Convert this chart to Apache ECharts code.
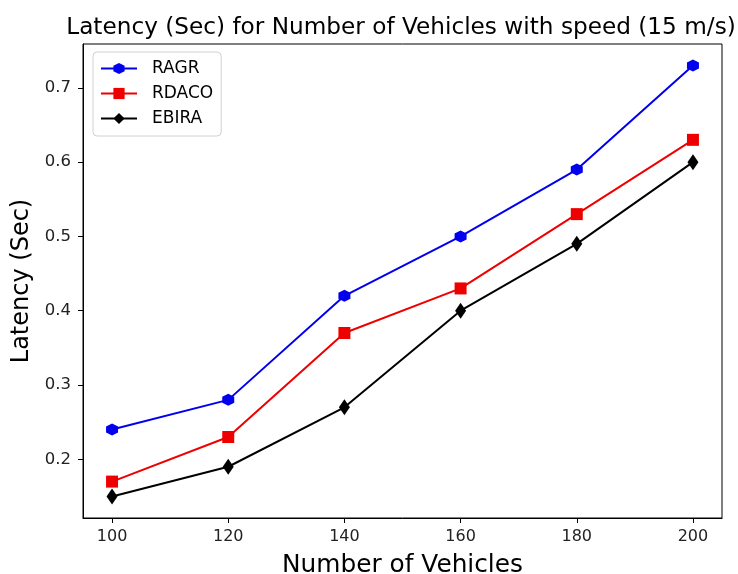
<!DOCTYPE html>
<html>
<head>
<meta charset="utf-8">
<script src="https://cdn.jsdelivr.net/npm/echarts@6/dist/echarts.min.js"></script>
<style>
  html, body { margin: 0; padding: 0; background: #fff; }
  #chart { width: 738px; height: 574px; }
</style>
</head>
<body>
<div id="chart"></div>
<script>
var vehicles = [100, 120, 140, 160, 180, 200]
var ragr = [0.24, 0.28, 0.42, 0.50, 0.59, 0.73]
var rdaco = [0.17, 0.23, 0.37, 0.43, 0.53, 0.63]
var ebira = [0.15, 0.19, 0.27, 0.40, 0.49, 0.60]
var xTicks = [100, 120, 140, 160, 180, 200]
var yTicks = [0.2, 0.3, 0.4, 0.5, 0.6, 0.7]

var hexagon = 'path://M0,-10 L8.66,-5 L8.66,5 L0,10 L-8.66,5 L-8.66,-5 Z'
var font = 'DejaVu Sans'

function pairs (ys) {
  return vehicles.map(function (x, i) { return [x, ys[i]] })
}

var chart = echarts.init(document.getElementById('chart'))
chart.setOption({
  animation: false,
  textStyle: { fontFamily: font },
  title: {
    text: 'Latency (Sec) for Number of Vehicles with speed (15 m/s)',
    left: 396,
    top: 11,
    textAlign: 'center',
    textStyle: { fontSize: 23.2, fontWeight: 'normal', color: '#000', fontFamily: font }
  },
  legend: {
    orient: 'vertical',
    left: 93,
    top: 52,
    itemWidth: 36,
    itemHeight: 14,
    itemGap: 8,
    padding: [8, 8, 9, 7],
    borderColor: '#d0d0d0',
    borderWidth: 1,
    borderRadius: 4,
    textStyle: { fontSize: 17, color: '#000', fontFamily: font, padding: [0, 0, 0, 10] },
    data: ['RAGR', 'RDACO', 'EBIRA']
  },
  grid: {
    left: 83,
    right: 16,
    top: 44,
    bottom: 56,
    outerBoundsMode: 'none',
    show: true,
    borderColor: '#000',
    borderWidth: 1
  },
  xAxis: {
    type: 'value',
    min: 95,
    max: 205,
    name: 'Number of Vehicles',
    nameLocation: 'middle',
    nameGap: 35,
    nameTextStyle: { fontSize: 24.8, color: '#000', fontFamily: font },
    splitLine: { show: false },
    axisLine: { lineStyle: { color: '#000' } },
    axisTick: { customValues: xTicks, length: 5, lineStyle: { color: '#000' } },
    axisLabel: { customValues: xTicks, fontSize: 16, color: '#222', margin: 11 }
  },
  yAxis: {
    type: 'value',
    min: 0.121,
    max: 0.759,
    name: 'Latency (Sec)',
    nameLocation: 'middle',
    nameGap: 45,
    nameTextStyle: { fontSize: 24, color: '#000', fontFamily: font },
    splitLine: { show: false },
    axisLine: { show: true, lineStyle: { color: '#000' } },
    axisTick: { show: true, customValues: yTicks, length: 5, lineStyle: { color: '#000' } },
    axisLabel: {
      customValues: yTicks,
      fontSize: 16.5,
      color: '#222',
      margin: 12,
      formatter: function (v) { return v.toFixed(1) }
    }
  },
  series: [
    {
      name: 'RAGR',
      type: 'line',
      data: pairs(ragr),
      symbol: hexagon,
      symbolSize: 12,
      color: '#0000ee',
      lineStyle: { width: 2, color: '#0000ee' },
      itemStyle: { color: '#0000ee' }
    },
    {
      name: 'RDACO',
      type: 'line',
      data: pairs(rdaco),
      symbol: 'rect',
      symbolSize: 12,
      color: '#ee0000',
      lineStyle: { width: 2, color: '#ee0000' },
      itemStyle: { color: '#ee0000' }
    },
    {
      name: 'EBIRA',
      type: 'line',
      data: pairs(ebira),
      symbol: 'diamond',
      symbolSize: [11, 16],
      color: '#000',
      lineStyle: { width: 2, color: '#000' },
      itemStyle: { color: '#000' }
    }
  ]
})
</script>
</body>
</html>
